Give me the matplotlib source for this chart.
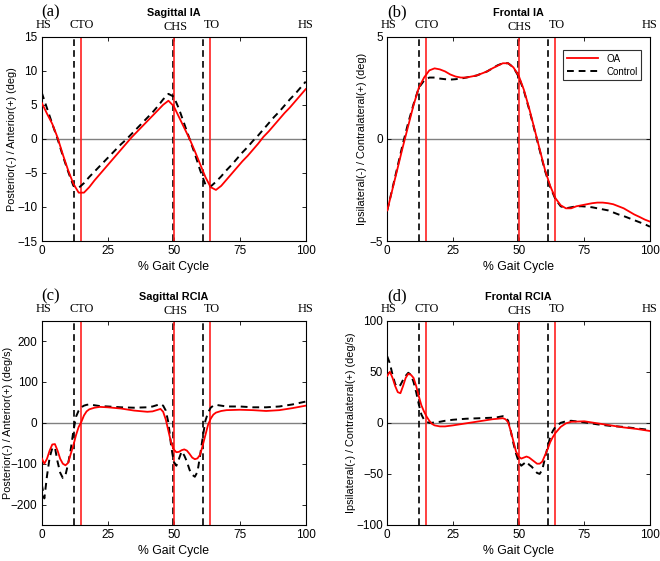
import matplotlib
matplotlib.use('Agg')
import matplotlib.pyplot as plt

plt.rcParams['font.family'] = ['Liberation Sans', 'DejaVu Sans']

# Gait events (% gait cycle)
events_control = [12.1, 49.8, 61.2]
events_oa = [14.8, 50.1, 63.9]
event_labels = ['HS', 'CTO', 'CHS', 'TO', 'HS']
event_label_pos = [0.5, 15, 50.5, 64.5, 100]
event_label_y = [1.055, 1.055, 1.045, 1.055, 1.055]

# Panels (a) and (b): x grid every 2 %
pct_ab = [0, 2, 4, 6, 8, 10, 12, 14, 16, 18, 20, 22, 24, 26, 28, 30, 32, 34, 36, 38,
          40, 42, 44, 46, 48, 50, 52, 54, 56, 58, 60, 62, 64, 66, 68, 70, 72, 74, 76, 78,
          80, 82, 84, 86, 88, 90, 92, 94, 96, 98, 100]

sag_ia_oa = [5.3, 3.7, 2.2, 0.2, -2.3, -4.6, -6.6, -7.9, -7.9, -7.1, -6.1, -5.2, -4.3, -3.4,
             -2.5, -1.6, -0.7, 0.2, 1.0, 1.8, 2.6, 3.4, 4.2, 5.0, 5.6, 4.8, 3.2, 1.6, 0.0,
             -1.8, -3.7, -5.6, -7.1, -7.5, -6.9, -6.0, -5.1, -4.2, -3.3, -2.5, -1.6, -0.7,
             0.3, 1.1, 2.0, 2.9, 3.8, 4.6, 5.5, 6.4, 7.3]
sag_ia_ctrl = [6.8, 4.5, 2.2, 0.0, -2.5, -4.8, -6.9, -7.2, -6.5, -5.6, -4.8, -4.0, -3.2, -2.4,
               -1.6, -0.8, -0.1, 0.7, 1.5, 2.3, 3.1, 3.9, 4.8, 5.8, 6.6, 6.2, 4.4, 2.2, 0.0,
               -2.2, -4.6, -6.7, -7.0, -6.3, -5.5, -4.6, -3.8, -2.9, -2.0, -1.2, -0.3, 0.5,
               1.4, 2.3, 3.2, 4.0, 4.9, 5.8, 6.6, 7.5, 8.4]

fro_ia_oa = [-3.5, -2.45, -1.4, -0.35, 0.65, 1.65, 2.5, 3.0, 3.35, 3.45, 3.4, 3.3, 3.15, 3.05,
             3.0, 3.0, 3.05, 3.1, 3.2, 3.3, 3.45, 3.58, 3.7, 3.7, 3.5, 3.1, 2.4, 1.5, 0.5,
             -0.5, -1.5, -2.3, -2.9, -3.25, -3.4, -3.4, -3.3, -3.25, -3.2, -3.15, -3.12,
             -3.12, -3.15, -3.2, -3.3, -3.4, -3.55, -3.7, -3.82, -3.95, -4.05]
fro_ia_ctrl = [-3.5, -2.4, -1.3, -0.2, 0.8, 1.7, 2.5, 2.85, 3.0, 3.0, 2.95, 2.92, 2.9, 2.92,
               2.95, 3.0, 3.05, 3.1, 3.2, 3.3, 3.45, 3.6, 3.7, 3.7, 3.5, 3.05, 2.35, 1.45,
               0.45, -0.55, -1.55, -2.35, -2.95, -3.3, -3.4, -3.35, -3.3, -3.3, -3.32, -3.35,
               -3.4, -3.45, -3.5, -3.6, -3.7, -3.78, -3.88, -3.98, -4.08, -4.18, -4.3]

# Panels (c) and (d): denser x grid around the fast changes
pct_cd = [0, 1, 2, 3, 4, 5, 6, 7, 8, 9, 10, 11, 12, 13, 14, 15, 16, 17, 18, 20, 22, 25, 30,
          35, 40, 42, 44, 45, 46, 47, 48, 49, 50, 51, 52, 53, 54, 55, 56, 57, 58, 59, 60,
          61, 62, 63, 64, 65, 66, 68, 70, 75, 80, 85, 90, 95, 100]

sag_rcia_oa = [-87, -100, -88, -68, -53, -52, -68, -88, -100, -104, -98, -76, -55, -30, -10,
               2, 18, 28, 33, 37, 39, 38, 35, 30, 27, 28, 32, 34, 27, 8, -20, -48, -65, -72,
               -71, -67, -65, -68, -76, -85, -89, -87, -78, -55, -30, -5, 10, 20, 25, 29, 31,
               32, 31, 29, 31, 36, 42]
sag_rcia_ctrl = [-150, -185, -130, -85, -62, -60, -95, -122, -135, -128, -100, -65, -20, 15,
                 30, 38, 42, 44, 45, 43, 41, 40, 38, 37, 38, 40, 44, 46, 42, 30, 0, -55, -95,
                 -105, -88, -70, -80, -95, -115, -127, -132, -120, -80, -35, 5, 25, 37, 42,
                 44, 42, 40, 40, 38, 38, 40, 45, 52]

fro_rcia_oa = [46, 50, 44, 36, 30, 29, 36, 44, 48, 47, 44, 36, 26, 17, 11, 6, 2, -1, -2.5,
               -3.5, -3.5, -2.5, -0.5, 1.5, 3.5, 4, 4.5, 3.5, 0.5, -8, -18, -28, -33, -35,
               -34, -33, -34, -36, -38, -40, -40, -38, -32, -26, -19, -14, -10, -7, -4, -0.5,
               1, 1.5, -0.5, -2.5, -4.5, -6, -8]
fro_rcia_ctrl = [65, 58, 47, 38, 35, 37, 42, 46, 49, 47, 40, 30, 18, 8, 3, 1, 0, 0, 0.5, 1,
                 2, 3, 4, 4.5, 5, 5.5, 6.5, 6, 2, -8, -20, -30, -38, -42, -40, -38, -41, -43,
                 -46, -49, -50, -46, -35, -24, -14, -8, -4, -2, 0, 1.5, 2, 0.5, -1.5, -3, -4,
                 -5.5, -7]

panels = [
    ('(a)', 'Sagittal IA', pct_ab, sag_ia_oa, sag_ia_ctrl, (-15, 15), [-15, -10, -5, 0, 5, 10, 15],
     'Posterior(-) / Anterior(+) (deg)'),
    ('(b)', 'Frontal IA', pct_ab, fro_ia_oa, fro_ia_ctrl, (-5, 5), [-5, 0, 5],
     'Ipsilateral(-) / Contralateral(+) (deg)'),
    ('(c)', 'Sagittal RCIA', pct_cd, sag_rcia_oa, sag_rcia_ctrl, (-250, 250), [-200, -100, 0, 100, 200],
     'Posterior(-) / Anterior(+) (deg/s)'),
    ('(d)', 'Frontal RCIA', pct_cd, fro_rcia_oa, fro_rcia_ctrl, (-100, 100), [-100, -50, 0, 50, 100],
     'Ipsilateral(-) / Contralateral(+) (deg/s)'),
]

axes_pos = [
    [0.0632, 0.5704, 0.400, 0.3642],
    [0.5868, 0.5704, 0.398, 0.3642],
    [0.0632, 0.0642, 0.400, 0.3642],
    [0.5868, 0.0642, 0.398, 0.3642],
]
ylabel_x = [-0.094, -0.076, -0.110, -0.120]

fig = plt.figure(figsize=(6.6, 5.61), dpi=100)

for (tag, title, x, oa, ctrl, ylim, yticks, ylabel), pos, lx in zip(panels, axes_pos, ylabel_x):
    ax = fig.add_axes(pos)
    ax.axhline(0, color='#808080', lw=1.0, zorder=1)
    for ev in events_control:
        ax.axvline(ev, color='black', lw=1.2, dashes=(4, 2.5), zorder=2)
    for ev in events_oa:
        ax.axvline(ev, color='#ff2020', lw=1.2, zorder=2)
    l_oa, = ax.plot(x, oa, color='#ff0000', lw=1.3, label='OA', zorder=4)
    l_ct, = ax.plot(x, ctrl, color='black', lw=1.4, dashes=(3.5, 2.5), label='Control', zorder=3)

    ax.set_xlim(0, 100)
    ax.set_ylim(*ylim)
    ax.set_xticks([0, 25, 50, 75, 100])
    ax.set_yticks(yticks)
    ax.tick_params(direction='in', length=3, width=0.6, labelsize=8.5, top=True, right=True,
                   pad=3)
    for s in ax.spines.values():
        s.set_linewidth(0.8)
    ax.set_xlabel('% Gait Cycle', fontsize=8.8, labelpad=3)
    ax.set_ylabel(ylabel, fontsize=7.8)
    ax.yaxis.set_label_coords(lx, 0.5)

    ax.text(0.5, 1.118, title, transform=ax.transAxes, ha='center', va='center',
            fontsize=7.8, fontweight='bold')
    ax.text(0, 1.118, tag, transform=ax.transAxes, ha='left', va='center',
            fontsize=12, family='Liberation Serif')
    for lab, xp, yp in zip(event_labels, event_label_pos, event_label_y):
        ax.text(xp, yp, lab, transform=ax.get_xaxis_transform(), ha='center',
                va='center', fontsize=8.8, family='Liberation Serif')

    if tag == '(b)':
        leg = ax.legend(handles=[l_oa, l_ct], loc='upper right', fontsize=7,
                        fancybox=False, framealpha=1, edgecolor='#303030',
                        handlelength=3.2, borderpad=0.4, labelspacing=0.3,
                        bbox_to_anchor=(0.985, 0.96))
        leg.get_frame().set_linewidth(0.8)

fig.savefig('out.png', dpi=100)
